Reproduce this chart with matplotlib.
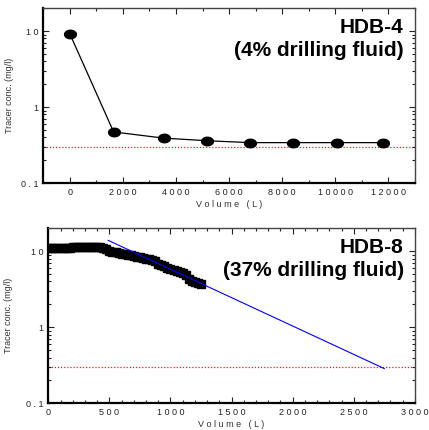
import matplotlib
matplotlib.use("Agg")
import matplotlib.pyplot as plt
import numpy as np
from matplotlib.ticker import FixedLocator, MultipleLocator, NullFormatter

plt.rcParams['font.family'] = ['Liberation Sans', 'DejaVu Sans']

# HDB-4 samples
vol4 = [0, 1650, 3530, 5170, 6790, 8410, 10080, 11800]
conc4 = [9.2, 0.47, 0.39, 0.36, 0.34, 0.34, 0.34, 0.34]

# HDB-8 continuous record
vol8 = [0, 25, 50, 75, 100, 125, 150, 175, 200, 225, 250, 275, 300, 325, 350,
        375, 400, 425, 450, 475, 500, 525, 550, 575, 600, 625, 650, 675, 700,
        725, 750, 775, 800, 825, 850, 875, 900, 925, 950, 975, 1000, 1025,
        1050, 1075, 1100, 1125, 1150, 1175, 1200, 1225, 1250]
conc8 = [11.0, 11.0, 11.0, 11.0, 11.1, 11.1, 11.1, 11.1, 11.2, 11.2, 11.2,
         11.2, 11.3, 11.3, 11.3, 11.3, 11.3, 11.2, 11.0, 10.6, 10.1, 9.9, 9.7,
         9.5, 9.3, 9.1, 9.0, 8.8, 8.7, 8.5, 8.4, 8.2, 8.0, 7.8, 7.7, 7.5, 6.8,
         6.5, 6.3, 6.1, 5.9, 5.7, 5.5, 5.3, 5.2, 4.8, 4.3, 4.0, 3.9, 3.8, 3.7]

# extrapolated fit for HDB-8
fit_vol = [490, 2750]
fit_conc = [13.9, 0.286]

detect_limit = 0.3

t = np.linspace(0, 2 * np.pi, 40)
ellipse = np.column_stack([np.cos(t), 0.72 * np.sin(t)])

fig = plt.figure(figsize=(4.29, 4.30), dpi=100)
ax1 = fig.add_axes([0.1009, 0.5744, 0.967 - 0.1009, 0.981 - 0.5744])
ax2 = fig.add_axes([0.1126, 0.0621, 0.967 - 0.1126, 0.469 - 0.0621])


def style(ax, label_x):
    ax.set_yscale('log')
    ax.set_ylim(0.1, 20)
    ax.yaxis.set_major_locator(FixedLocator([0.1, 1, 10]))
    ax.set_yticklabels(['0 . 1', '1', '1 0'])
    ax.yaxis.set_minor_formatter(NullFormatter())
    ax.tick_params(which='both', direction='in', top=True, right=True,
                   labelsize=6.5, colors='#222222', width=0.8)
    ax.tick_params(which='major', length=4)
    ax.tick_params(which='minor', length=2.5)
    for s in ['left', 'bottom']:
        ax.spines[s].set_linewidth(1.6)
        ax.spines[s].set_color('black')
    for s in ['top', 'right']:
        ax.spines[s].set_linewidth(1.0)
        ax.spines[s].set_color('#444444')
    ax.set_ylabel('Tracer conc. (mg/l)', fontsize=6.5, color='#333333')
    ax.yaxis.set_label_coords(label_x, 0.5)
    ax.set_xlabel('V o l u m e   ( L )', fontsize=6.5, color='#333333', labelpad=2)
    ax.axhline(detect_limit, color='#ff2020', ls=(0, (1, 1.5)), lw=0.9, zorder=1)


style(ax1, -0.078)
ax1.plot(vol4, conc4, color='black', lw=0.9, marker=ellipse, ms=8.5,
         mfc='black', mec='black', zorder=3)
ax1.set_xlim(-1000, 13000)
xt1 = [0, 2000, 4000, 6000, 8000, 10000, 12000]
ax1.set_xticks(xt1)
ax1.set_xticklabels([' '.join(str(v)) for v in xt1])
ax1.xaxis.set_minor_locator(MultipleLocator(1000))
ax1.text(0.97, 0.945, 'HDB-4\n(4% drilling fluid)', transform=ax1.transAxes,
         ha='right', va='top', fontsize=15, fontweight='bold',
         linespacing=1.27)

style(ax2, -0.095)
ax2.plot(vol8, conc8, ls='none', marker='s', ms=6, mfc='black', mec='black',
         zorder=2)
ax2.plot(fit_vol, fit_conc, color='blue', lw=0.8, zorder=3)
ax2.set_xlim(0, 3000)
xt2 = [0, 500, 1000, 1500, 2000, 2500, 3000]
ax2.set_xticks(xt2)
ax2.set_xticklabels([' '.join(str(v)) for v in xt2])
ax2.xaxis.set_minor_locator(MultipleLocator(100))
ax2.text(0.97, 0.945, 'HDB-8\n(37% drilling fluid)', transform=ax2.transAxes,
         ha='right', va='top', fontsize=15, fontweight='bold',
         linespacing=1.27)

fig.savefig('out.png', dpi=100)
